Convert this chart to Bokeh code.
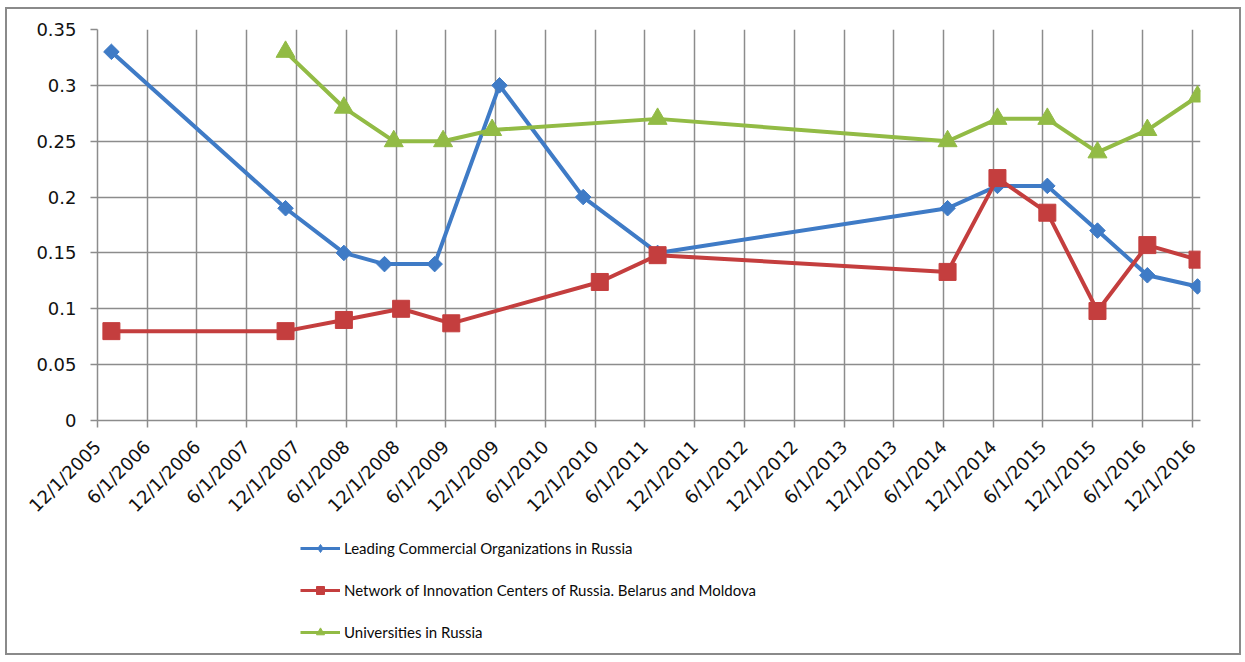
import math
import pandas as pd
from bokeh.plotting import figure
from bokeh.layouts import column
from bokeh.models import (Range1d, FixedTicker, NumeralTickFormatter, Legend,
                          LegendItem)
from bokeh.embed import file_html
from bokeh.resources import INLINE

# ---------------- data ----------------
x_tick_labels = ["12/1/2005", "6/1/2006", "12/1/2006", "6/1/2007", "12/1/2007",
                 "6/1/2008", "12/1/2008", "6/1/2009", "12/1/2009", "6/1/2010",
                 "12/1/2010", "6/1/2011", "12/1/2011", "6/1/2012", "12/1/2012",
                 "6/1/2013", "12/1/2013", "6/1/2014", "12/1/2014", "6/1/2015",
                 "12/1/2015", "6/1/2016", "12/1/2016"]
y_ticks = [0, 0.05, 0.1, 0.15, 0.2, 0.25, 0.3, 0.35]

series_names = ["Leading Commercial Organizations in Russia",
                "Network of Innovation Centers of Russia. Belarus and Moldova",
                "Universities in Russia"]

commercial_dates = ["2006-01-21", "2007-10-22", "2008-05-23", "2008-10-19",
                    "2009-04-21", "2009-12-15", "2010-10-18", "2011-07-18",
                    "2014-06-16", "2014-12-16", "2015-06-17", "2015-12-18",
                    "2016-06-18", "2016-12-19"]
commercial_values = [0.33, 0.19, 0.15, 0.14, 0.14, 0.30, 0.20, 0.15,
                     0.19, 0.21, 0.21, 0.17, 0.13, 0.12]

network_dates = ["2006-01-21", "2007-10-22", "2008-05-23", "2008-12-19",
                 "2009-06-21", "2010-12-18", "2011-07-18", "2014-06-16",
                 "2014-12-16", "2015-06-17", "2015-12-18", "2016-06-18",
                 "2016-12-19"]
network_values = [0.08, 0.08, 0.09, 0.10, 0.087, 0.124, 0.148, 0.133,
                  0.217, 0.186, 0.098, 0.157, 0.144]

university_dates = ["2007-10-22", "2008-05-23", "2008-11-22", "2009-05-22",
                    "2009-11-18", "2011-07-18", "2014-06-16", "2014-12-16",
                    "2015-06-17", "2015-12-18", "2016-06-18", "2016-12-19"]
university_values = [0.33, 0.28, 0.25, 0.25, 0.26, 0.27, 0.25, 0.27,
                     0.27, 0.24, 0.26, 0.29]

# ---------------- helpers ----------------
base = pd.Timestamp("2005-12-01")


def to_days(dates):
    return [(pd.Timestamp(d) - base).days for d in dates]


tick_pos = [(pd.to_datetime(t, format="%m/%d/%Y") - base).days for t in x_tick_labels]

FONT = "DejaVu Sans"
GRID = "#8c8c8c"

# ---------------- main chart ----------------
p = figure(width=1232, height=525, output_backend="svg", toolbar_location=None,
           x_range=Range1d(0, 4047), y_range=Range1d(0, 0.35),
           min_border_left=90, min_border_right=39, min_border_top=20,
           min_border_bottom=114)
p.background_fill_color = "white"
p.border_fill_color = "white"
p.outline_line_color = None

p.xaxis.ticker = FixedTicker(ticks=tick_pos)
p.xaxis.major_label_overrides = {int(k): v for k, v in zip(tick_pos, x_tick_labels)}
p.xaxis.major_label_orientation = math.pi / 4
p.yaxis.ticker = FixedTicker(ticks=y_ticks)
p.yaxis.formatter = NumeralTickFormatter(format="0.[00]")
for ax in (p.xaxis[0], p.yaxis[0]):
    ax.axis_line_color = GRID
    ax.axis_line_width = 1.5
    ax.major_tick_line_color = GRID
    ax.major_tick_line_width = 1.5
    ax.major_tick_out = 7
    ax.major_tick_in = 0
    ax.minor_tick_line_color = None
    ax.major_label_text_font = FONT
    ax.major_label_text_font_size = "18px"
    ax.major_label_text_color = "#111111"
p.xaxis.major_label_standoff = 16
p.yaxis.major_label_standoff = 14

p.xgrid.ticker = FixedTicker(ticks=tick_pos)
p.ygrid.ticker = FixedTicker(ticks=y_ticks)
for g in (p.xgrid[0], p.ygrid[0]):
    g.grid_line_color = GRID
    g.grid_line_width = 1.5

colors = ["#3f7bc6", "#c43e3e", "#92bb45"]
datasets = [(to_days(commercial_dates), commercial_values),
            (to_days(network_dates), network_values),
            (to_days(university_dates), university_values)]
markers = [("square", 11, math.pi / 4), ("square", 17, 0), ("triangle", 19, 0)]

for col, (xs, ys), (mk, sz, ang) in zip(colors, datasets, markers):
    p.line(xs, ys, line_color=col, line_width=4)
    p.scatter(xs, ys, marker=mk, size=sz, angle=ang, fill_color=col, line_color=col)

# ---------------- legend strip ----------------
q = figure(width=1232, height=119, output_backend="svg", toolbar_location=None,
           x_range=Range1d(0, 1), y_range=Range1d(0, 1),
           min_border=0, x_axis_type=None, y_axis_type=None)
q.grid.visible = False
q.outline_line_color = None
q.background_fill_color = "white"
q.border_fill_color = "white"

legend_markers = [("diamond", 10, 0), ("square", 8, 0), ("triangle", 9, 0)]
items = []
for name, col, (mk, sz, ang) in zip(series_names, colors, legend_markers):
    # proxy glyphs placed outside the visible range: they only feed the legend
    r_line = q.line([-5, -4], [-5, -5], line_color=col, line_width=3)
    r_pts = q.scatter([-5], [-5], marker=mk, size=sz, angle=ang,
                      fill_color=col, line_color=col)
    items.append(LegendItem(label=name, renderers=[r_line, r_pts]))

legend = Legend(items=items, location=(203, 11), orientation="vertical",
                glyph_width=40, glyph_height=20, label_height=20, spacing=22,
                padding=0, margin=0, label_standoff=4,
                label_text_font="Lato",
                label_text_font_size="15px", label_text_color="#0a0a0a",
                border_line_color=None, background_fill_alpha=0)
q.add_layout(legend, "center")

layout = column(p, q, spacing=0)
layout.margin = (7, 0, 0, 5)
layout.styles = {"border": "2px solid #8a8a8a", "background": "white"}

open("out.html", "w").write(file_html(layout, INLINE))
